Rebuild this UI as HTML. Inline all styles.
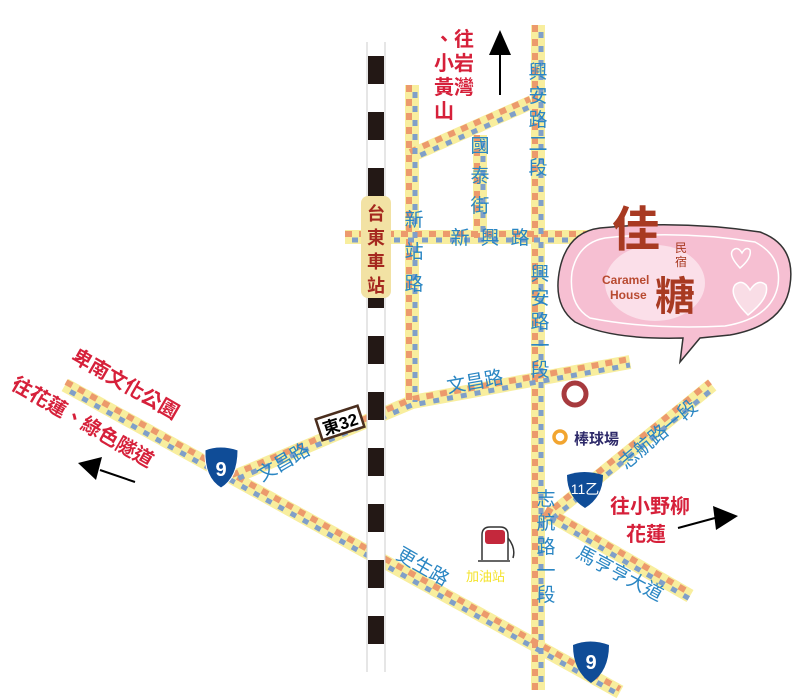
<!DOCTYPE html>
<html><head><meta charset="utf-8"><style>
html,body{margin:0;padding:0;background:#fff;}
svg{display:block;}
text{font-family:"Liberation Sans","Noto Sans CJK TC",sans-serif;}
.b{fill:#2a86c3;font-size:19px;}
.r{fill:#d6203a;font-size:20px;font-weight:bold;}
</style></head><body>
<svg width="796" height="699" viewBox="0 0 796 699" xmlns="http://www.w3.org/2000/svg">
<defs>
<g id="rd"></g>
</defs>
<g stroke-linecap="butt" fill="none">
<!-- road base -->
<g stroke="#f8ee9e" stroke-width="14">
<path d="M538 25V690"/><path d="M412 85V402"/><path d="M412 155L532 102"/><path d="M480 135V238"/>
<path d="M345 237H640"/><path d="M232 478L412 402L630 362"/>
<path d="M65 385L620 692"/><path d="M545 520L712 385"/><path d="M545 512L690 596"/>
</g>
<g stroke="#ec9a6c" stroke-width="6" stroke-dasharray="7 7">
<path d="M535 25V690"/><path d="M409 85V402"/><path d="M410 152L530 99"/><path d="M477 135V238"/>
<path d="M345 234H640"/><path d="M232 475L412 399L630 359"/>
<path d="M66 382L620 689"/><path d="M543 517L710 382"/><path d="M546 509L690 593"/>
</g>
<g stroke="#7f9fc9" stroke-width="5" stroke-dasharray="6 8" stroke-dashoffset="7">
<path d="M541 25V690"/><path d="M415 85V402"/><path d="M414 158L534 105"/><path d="M483 135V238"/>
<path d="M345 240H640"/><path d="M232 481L412 405L630 365"/>
<path d="M64 388L620 695"/><path d="M547 523L714 388"/><path d="M544 515L690 599"/>
</g>
<!-- railway -->
<path d="M376 42V672" stroke="#fff" stroke-width="18"/>
<path d="M376 42V672" stroke="#231815" stroke-width="16" stroke-dasharray="28 28" stroke-dashoffset="-14"/>
<path d="M367 42V672M385 42V672" stroke="#ccc" stroke-width="1"/>
</g>
<rect x="361" y="196" width="30" height="102" rx="7" fill="#f2e2a4"/>
<g fill="#a5281e" font-size="18" font-weight="bold" text-anchor="middle">
<text x="376" y="220">台</text><text x="376" y="244">東</text><text x="376" y="268">車</text><text x="376" y="292">站</text>
</g>
<!-- labels blue -->
<g class="b" text-anchor="middle">
<text x="538" y="78">興</text><text x="538" y="102">安</text><text x="538" y="126">路</text><text x="538" y="150">二</text><text x="538" y="174">段</text>
<text x="480" y="152">國</text><text x="480" y="182">泰</text><text x="480" y="212">街</text>
<text x="460" y="244">新</text><text x="490" y="244">興</text><text x="520" y="244">路</text>
<text x="414" y="226">新</text><text x="414" y="258">站</text><text x="414" y="290">路</text>
<text x="540" y="280">興</text><text x="540" y="304">安</text><text x="540" y="328">路</text><text x="540" y="352">一</text><text x="540" y="376">段</text>
<text x="546" y="505">志</text><text x="546" y="529">航</text><text x="546" y="553">路</text><text x="546" y="577">一</text><text x="546" y="601">段</text>
</g>
<text class="b" transform="translate(448 393) rotate(-10)">文昌路</text>
<text class="b" transform="translate(262 482) rotate(-30)">文昌路</text>
<text class="b" transform="translate(626 470) rotate(-40)">志航路一段</text>
<text class="b" transform="translate(575 557) rotate(28)">馬亨亨大道</text>
<text class="b" transform="translate(395 558) rotate(30)">更生路</text>
<!-- red labels -->
<g class="r" text-anchor="middle">
<text x="464" y="46">往</text><text x="464" y="70">岩</text><text x="464" y="94">灣</text>
<text x="444" y="46">、</text><text x="444" y="70">小</text><text x="444" y="94">黃</text><text x="444" y="118">山</text>
</g>
<text class="r" transform="translate(70 360) rotate(30)">卑南文化公園</text>
<text class="r" transform="translate(10 388) rotate(30)">往花蓮、綠色隧道</text>
<text class="r" x="610" y="513">往小野柳</text>
<text class="r" x="626" y="541">花蓮</text>
<!-- arrows -->
<g stroke="#000" stroke-width="2"><path d="M500 95V50"/><path d="M135 482L100 470"/><path d="M678 528L715 518"/></g>
<polygon points="500,30 489,55 511,55"/>
<polygon points="78,463 102,457 96,480"/>
<polygon points="738,516 713,506 716,530"/>
<!-- 東32 -->
<g transform="translate(340 423) rotate(-18)"><rect x="-22" y="-11" width="44" height="22" fill="#fff" stroke="#4a2e1e" stroke-width="2.5"/><text x="0" y="7" text-anchor="middle" font-size="17" font-weight="bold">東32</text></g>
<!-- shields -->
<g id="s9"><path d="M205 450Q220 444 238 450Q238 478 221 488Q204 478 205 450Z" fill="#0f4c97" stroke="#fff" stroke-width="1"/><text x="221" y="476" fill="#fff" font-size="20" font-weight="bold" text-anchor="middle">9</text></g>
<path d="M573 645Q590 638 609 645Q609 671 591 683Q573 671 573 645Z" fill="#0f4c97"/><text x="591" y="669" fill="#fff" font-size="20" font-weight="bold" text-anchor="middle">9</text>
<path d="M567 475Q584 469 603 475Q603 497 585 508Q567 497 567 475Z" fill="#0f4c97"/><text x="585" y="494" fill="#fff" font-size="14" text-anchor="middle">11乙</text>
<!-- circles -->
<circle cx="575" cy="394" r="11" fill="none" stroke="#a73a3e" stroke-width="5"/>
<circle cx="560" cy="437" r="6" fill="none" stroke="#f2a530" stroke-width="3.5"/>
<text x="574" y="444" fill="#2e2a6a" font-size="15" font-weight="bold">棒球場</text>
<!-- gas -->
<path d="M482 560V535Q482 527 490 527H500Q508 527 508 535V560" fill="#fff" stroke="#333" stroke-width="1.5"/>
<rect x="485" y="530" width="20" height="14" rx="3" fill="#c4283c"/>
<path d="M478 561H510M508 538Q516 548 513 558" stroke="#333" stroke-width="1.5" fill="none"/>
<text x="466" y="581" fill="#f4e32a" font-size="13">加油站</text>
<!-- bubble -->
<path d="M600 228Q680 220 760 232Q796 245 790 285Q785 325 730 335L700 338L680 362L683 338Q610 340 575 322Q552 305 560 268Q568 232 600 228Z" fill="#f6bfd2" stroke="#333" stroke-width="1.5"/>
<path d="M605 238Q680 230 755 242Q782 256 778 285Q772 318 725 326Q650 330 590 318Q568 305 572 272Q578 243 605 238Z" fill="none" stroke="#fff" stroke-width="1.5"/>
<ellipse cx="655" cy="283" rx="50" ry="38" fill="#fff" opacity="0.5"/>
<text x="612" y="246" fill="#a83a22" font-size="48" font-weight="bold">佳</text>
<text x="675" y="252" fill="#a83a22" font-size="12">民</text><text x="675" y="266" fill="#a83a22" font-size="12">宿</text>
<text x="655" y="310" fill="#a83a22" font-size="40" font-weight="bold">糖</text>
<text x="602" y="284" fill="#b84a30" font-size="12" font-weight="bold">Caramel</text>
<text x="610" y="299" fill="#b84a30" font-size="12" font-weight="bold">House</text>
<path d="M740 268Q728 255 733 250Q738 246 742 253Q746 246 750 250Q752 258 740 268Z" fill="none" stroke="#fff" stroke-width="1.5"/>
<path d="M748 315Q728 295 735 285Q743 278 750 290Q758 278 766 285Q770 298 748 315Z" fill="#f9dde6" stroke="#fff" stroke-width="1.5"/>
</svg>
</body></html>
